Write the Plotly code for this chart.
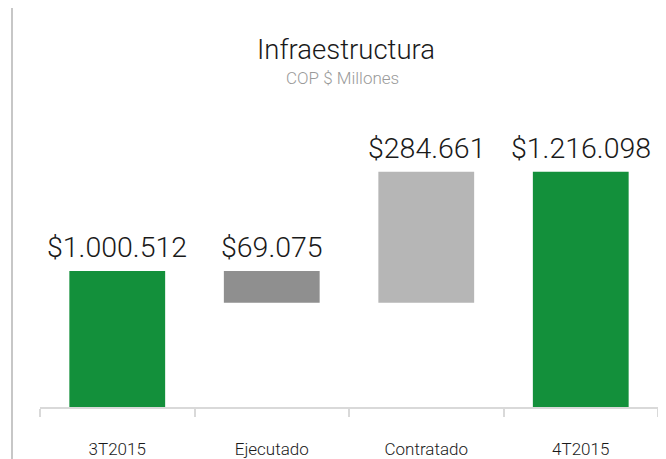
import plotly.graph_objects as go

categories = ["3T2015", "Ejecutado", "Contratado", "4T2015"]
measures = ["absolute", "relative", "relative", "total"]
values = [1000512, -69075, 284661, 0]
label_values = [1000512, 69075, 284661, 1216098]

GREEN = "#13903b"
DARK_GRAY = "#8f8f8f"
LIGHT_GRAY = "#b6b6b6"

FONT = "Roboto"

ML, MR, MT, MB = 32, 16, 92, 60
PW = 666 - ML - MR
PH = 459 - MT - MB

fig = go.Figure()
fig.add_trace(go.Waterfall(
    x=categories,
    y=values,
    measure=measures,
    totals=dict(marker=dict(color=GREEN)),
    increasing=dict(marker=dict(color=LIGHT_GRAY)),
    decreasing=dict(marker=dict(color=DARK_GRAY)),
    connector=dict(visible=False),
    hoverinfo="skip",
    showlegend=False,
))

# label tops computed from the waterfall data
tops = []
running = 0
for m, v in zip(measures, values):
    if m == "absolute":
        start, running = 0, v
    elif m == "relative":
        start, running = running, running + v
    else:
        start = 0
    tops.append(max(start, running))

for cat, top, lv in zip(categories, tops, label_values):
    fig.add_annotation(
        x=cat, y=top, xref="x", yref="y",
        text="$" + f"{lv:,}".replace(",", "."),
        showarrow=False, yanchor="bottom", yshift=5,
        font=dict(family=FONT, size=28.5, color="#1a1a1a", weight=300),
    )

fig.add_annotation(
    x=0.495, y=1 + 50 / PH, xref="paper", yref="paper",
    text="Infraestructura", showarrow=False, yanchor="middle",
    font=dict(family=FONT, size=27.5, color="#1a1a1a", weight=300),
)
fig.add_annotation(
    x=0.49, y=1 + 22 / PH, xref="paper", yref="paper",
    text="COP $ Millones", showarrow=False, yanchor="middle",
    font=dict(family=FONT, size=17, color="#9a9a9a", weight=300),
)

fig.add_shape(
    type="line", xref="paper", yref="paper",
    x0=(4 - ML) / PW, x1=(4 - ML) / PW,
    y0=-MB / PH, y1=1 + MT / PH,
    line=dict(color="#b4b4b4", width=1.5),
)

fig.update_layout(
    width=666, height=459,
    margin=dict(l=ML, r=MR, t=MT, b=MB, autoexpand=False),
    paper_bgcolor="white", plot_bgcolor="white",
    waterfallgap=0.38,
    xaxis=dict(
        automargin=False,
        showline=True, linecolor="#d9d9d9", linewidth=2,
        ticks="outside", tickson="boundaries", ticklen=8,
        tickcolor="#d9d9d9", tickwidth=2,
        showgrid=False, zeroline=False,
        tickfont=dict(family=FONT, size=17, color="#1a1a1a", weight=300),
        ticklabelstandoff=26,
    ),
    yaxis=dict(
        range=[704700, 1372400],
        visible=False, showgrid=False, zeroline=False,
    ),
)

fig.write_html("out.html")
